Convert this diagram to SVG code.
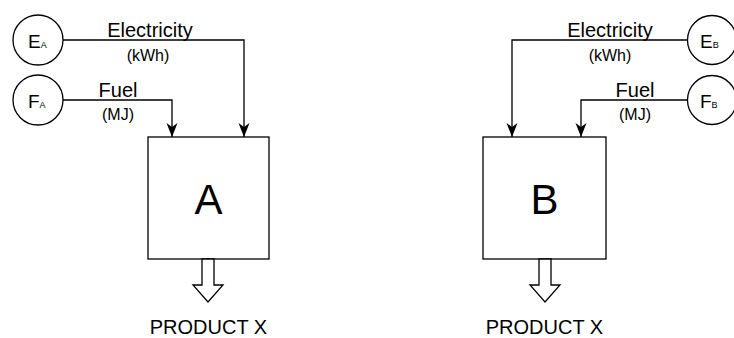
<svg xmlns="http://www.w3.org/2000/svg" width="734" height="338" viewBox="0 0 734 338">
<style>
text{font-family:"Liberation Sans",Arial,sans-serif;fill:#000}
.big{font-size:20px}
.sm{font-size:16px}
.node{fill:#fff;stroke:#000;stroke-width:1.3}
.edge{fill:none;stroke:#000;stroke-width:1.3}
</style>
<defs>
<marker id="arr" viewBox="0 0 14 12" refX="14" refY="6" markerWidth="14" markerHeight="12" markerUnits="userSpaceOnUse" orient="auto">
<path d="M0,0.5 L14,6 L0,11.5 L4,6 Z" fill="#000"/>
</marker>
</defs>
<rect width="734" height="338" fill="#fff"/>
<g id="connectors">
<path class="edge" d="M63,40 H244 V137" marker-end="url(#arr)"/>
<path class="edge" d="M63,100 H172 V137" marker-end="url(#arr)"/>
<path class="edge" d="M688,40 H512 V137" marker-end="url(#arr)"/>
<path class="edge" d="M688,100 H581 V137" marker-end="url(#arr)"/>
<text class="big" x="150" y="37" text-anchor="middle">Electricity</text>
<text class="sm" x="148" y="61" text-anchor="middle">(kWh)</text>
<text class="big" x="118" y="97" text-anchor="middle">Fuel</text>
<text class="sm" x="118" y="120" text-anchor="middle">(MJ)</text>
<text class="big" x="610" y="37" text-anchor="middle">Electricity</text>
<text class="sm" x="610" y="61" text-anchor="middle">(kWh)</text>
<text class="big" x="635" y="97" text-anchor="middle">Fuel</text>
<text class="sm" x="635" y="120" text-anchor="middle">(MJ)</text>
</g>
<g id="EA"><circle class="node" cx="38" cy="40" r="25"/><text x="28" y="48" font-size="19">E<tspan font-size="9">A</tspan></text></g>
<g id="FA"><circle class="node" cx="38" cy="100" r="25"/><text x="28" y="108" font-size="19">F<tspan font-size="9">A</tspan></text></g>
<g id="EB"><circle class="node" cx="712" cy="40" r="24.5"/><text x="700" y="48" font-size="19">E<tspan font-size="9">B</tspan></text></g>
<g id="FB"><circle class="node" cx="712" cy="100" r="24.5"/><text x="700" y="108" font-size="19">F<tspan font-size="9">B</tspan></text></g>
<g id="A">
<rect class="node" x="148" y="137" width="121" height="122"/>
<text x="208.5" y="214" font-size="42" text-anchor="middle">A</text>
<path class="node" stroke-width="1" d="M202,259 V285 H193 L208,302 L223,285 H214 V259 Z"/>
<text class="big" x="208.5" y="334" text-anchor="middle">PRODUCT X</text>
</g>
<g id="B">
<rect class="node" x="483" y="137" width="123" height="122"/>
<text x="544.5" y="214" font-size="42" text-anchor="middle">B</text>
<path class="node" stroke-width="1" d="M539,259 V285 H530 L545,302 L560,285 H551 V259 Z"/>
<text class="big" x="544.5" y="334" text-anchor="middle">PRODUCT X</text>
</g>
</svg>
